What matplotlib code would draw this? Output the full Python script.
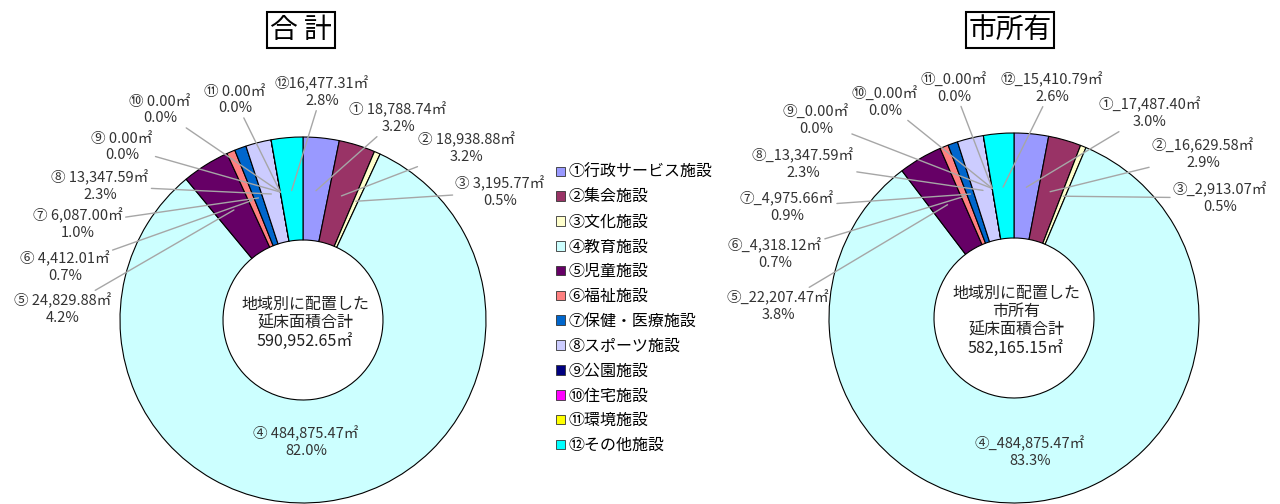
import matplotlib
matplotlib.use('Agg')
import matplotlib.pyplot as plt
from matplotlib.patches import Patch
import numpy as np

plt.rcParams['font.family'] = ['Noto Sans CJK JP', 'DejaVu Sans']

W, H = 1280, 504

# 施設分類
categories = ['①行政サービス施設', '②集会施設', '③文化施設', '④教育施設',
              '⑤児童施設', '⑥福祉施設', '⑦保健・医療施設', '⑧スポーツ施設',
              '⑨公園施設', '⑩住宅施設', '⑪環境施設', '⑫その他施設']
marks = ['①', '②', '③', '④', '⑤', '⑥', '⑦', '⑧', '⑨', '⑩', '⑪', '⑫']
colors = ['#9999FF', '#993366', '#FFFFCC', '#CCFFFF', '#660066', '#FF8080',
          '#0066CC', '#CCCCFF', '#000080', '#FF00FF', '#FFFF00', '#00FFFF']

# 延床面積 (㎡)
total_area = [18788.74, 18938.88, 3195.77, 484875.47, 24829.88, 4412.01,
              6087.00, 13347.59, 0.00, 0.00, 0.00, 16477.31]
city_area = [17487.40, 16629.58, 2913.07, 484875.47, 22207.47, 4318.12,
             4975.66, 13347.59, 0.00, 0.00, 0.00, 15410.79]

# label centres in pixel coords (x, y from top)
left_label_xy = [(398, 118), (466, 148), (500, 192), (306, 442), (63, 309),
                 (65, 267), (78, 224), (100, 186), (122, 147), (160, 110),
                 (235, 100), (322, 92)]
right_label_xy = [(1150, 113), (1203, 154), (1220, 198), (1030, 452),
                  (778, 306), (775, 254), (787, 207), (803, 164), (816, 120),
                  (885, 102), (954, 88), (1052, 88)]


def draw_donut(ax, values, center, radius, hole, label_xy, sep, inner_text):
    cx, cy = center[0], H - center[1]
    wedges, _ = ax.pie(values, colors=colors, startangle=90, counterclock=False,
                       center=(cx, cy), radius=radius,
                       wedgeprops=dict(width=radius - hole, edgecolor='black',
                                       linewidth=0.8))
    total = sum(values)
    for i, w in enumerate(wedges):
        ang = np.deg2rad((w.theta1 + w.theta2) / 2)
        tx = cx + radius * 0.71 * np.cos(ang)
        ty = cy + radius * 0.71 * np.sin(ang)
        s = sep if not (sep == ' ' and i == 11) else ''
        txt = f'{marks[i]}{s}{values[i]:,.2f}㎡\n{values[i] / total * 100:.1f}%'
        lx, ly = label_xy[i]
        if i == 3:
            ax.text(lx, H - ly, txt, ha='center', va='center', fontsize=10.5,
                    color='#333333', linespacing=1.2)
        else:
            ax.annotate(txt, xy=(tx, ty), xytext=(lx, H - ly), ha='center',
                        va='center', fontsize=10.5, color='#333333',
                        linespacing=1.2,
                        arrowprops=dict(arrowstyle='-', color='#a6a6a6', lw=1,
                                        shrinkA=0, shrinkB=0))
    ax.text(cx + 2, cy - 3, inner_text + f'\n{total:,.2f}㎡', ha='center',
            va='center', fontsize=11.5, color='#222222', linespacing=1.1)


fig = plt.figure(figsize=(W / 100, H / 100), dpi=100)
ax = fig.add_axes([0, 0, 1, 1])

draw_donut(ax, total_area, (303, 320), 183, 80, left_label_xy, ' ',
           '地域別に配置した\n延床面積合計')
draw_donut(ax, city_area, (1014, 318), 185, 80, right_label_xy, '_',
           '地域別に配置した\n市所有\n延床面積合計')

for x, title in [(301, '合 計'), (1010, '市所有')]:
    ax.text(x, H - 30, title, ha='center', va='center', fontsize=20,
            color='black',
            bbox=dict(boxstyle='square,pad=0.1', fc='white', ec='black', lw=1.5))

handles = [Patch(facecolor=c, edgecolor='#333333', linewidth=0.6) for c in colors]
ax.legend(handles, categories, loc='upper left',
          bbox_to_anchor=(556 / W, 1 - 164 / H), bbox_transform=fig.transFigure,
          frameon=False, fontsize=11.5, handlelength=0.55, handleheight=0.55,
          handletextpad=0.25, labelspacing=0.49, borderpad=0, borderaxespad=0)

ax.set_xlim(0, W)
ax.set_ylim(0, H)
ax.set_aspect('equal')
ax.axis('off')

fig.savefig('out.png', dpi=100)
